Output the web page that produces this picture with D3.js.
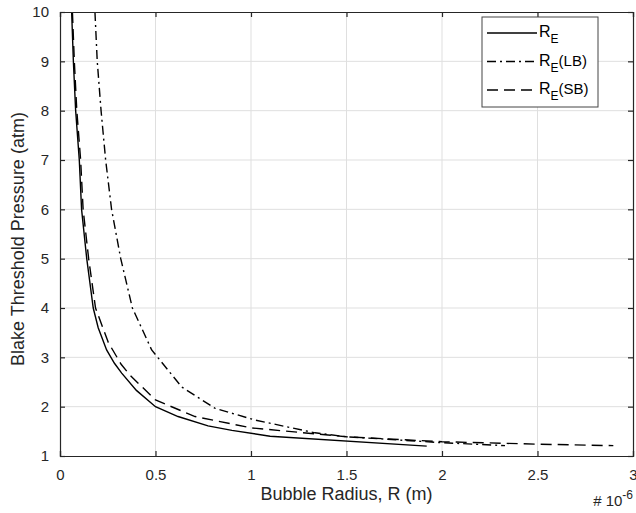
<!DOCTYPE html>
<html>
<head>
<meta charset="utf-8">
<script src="https://cdn.jsdelivr.net/npm/d3@7"></script>
<style>
  body { margin: 0; background: #fff; }
  svg { font-family: "Liberation Sans", Arial, sans-serif; }
  .tick text { fill: #262626; }
</style>
</head>
<body>
<svg id="chart" width="636" height="513"></svg>
<script>
// bubble radius (x 1e-6 m) and Blake threshold pressure (atm)
const reX = [0.061, 0.070, 0.082, 0.101, 0.113, 0.140, 0.174, 0.200, 0.244, 0.285, 0.323, 0.400, 0.500, 0.618, 0.775, 0.900, 1.100, 1.920];
const reY = [10, 9, 8, 7, 6, 5, 4, 3.6, 3.15, 2.88, 2.68, 2.33, 2.00, 1.80, 1.61, 1.52, 1.40, 1.20];

const lbX = [0.183, 0.195, 0.215, 0.239, 0.270, 0.318, 0.379, 0.480, 0.637, 0.810, 1.020, 1.335, 1.500, 2.000, 2.330];
const lbY = [10, 9, 8, 7, 6, 5, 4, 3.15, 2.40, 1.97, 1.73, 1.47, 1.39, 1.27, 1.21];

const sbX = [0.065, 0.075, 0.088, 0.108, 0.121, 0.150, 0.186, 0.253, 0.320, 0.366, 0.500, 0.707, 1.000, 1.500, 2.000, 2.500, 2.897];
const sbY = [10, 9, 8, 7, 6, 5, 4, 3.3, 2.86, 2.64, 2.135, 1.80, 1.57, 1.39, 1.29, 1.24, 1.21];

const xTicks = [0, 0.5, 1, 1.5, 2, 2.5, 3];
const yTicks = [1, 2, 3, 4, 5, 6, 7, 8, 9, 10];

const svg = d3.select("#chart");
const margin = {top: 12, right: 3, bottom: 57, left: 60};
const width = 636 - margin.left - margin.right;
const height = 513 - margin.top - margin.bottom;

const x = d3.scaleLinear().domain([0, 3]).range([0, width]);
const y = d3.scaleLinear().domain([1, 10]).range([height, 0]);

const g = svg.append("g").attr("transform", `translate(${margin.left},${margin.top})`);

// grid
g.append("g").selectAll("line").data(xTicks.slice(1, -1)).join("line")
  .attr("x1", d => x(d)).attr("x2", d => x(d))
  .attr("y1", 0).attr("y2", height)
  .attr("stroke", "#dfdfdf").attr("stroke-width", 1);
g.append("g").selectAll("line").data(yTicks.slice(1, -1)).join("line")
  .attr("x1", 0).attr("x2", width)
  .attr("y1", d => y(d)).attr("y2", d => y(d))
  .attr("stroke", "#dfdfdf").attr("stroke-width", 1);

// curves
const line = d3.line().x(d => x(d[0])).y(d => y(d[1]));
const zip = (a, b) => a.map((v, i) => [v, b[i]]);

g.append("defs").append("clipPath").attr("id", "clip")
  .append("rect").attr("width", width).attr("height", height);

const curves = g.append("g").attr("clip-path", "url(#clip)");
const styles = [
  {data: zip(reX, reY), dash: null},
  {data: zip(lbX, lbY), dash: "9,4,2,4"},
  {data: zip(sbX, sbY), dash: "11,6"}
];
styles.forEach(s => {
  curves.append("path")
    .attr("d", line(s.data))
    .attr("fill", "none")
    .attr("stroke", "#000")
    .attr("stroke-width", 1.4)
    .attr("stroke-dasharray", s.dash);
});

// axes (ticks inward, box on all sides)
const axisColor = "#262626";
const xAxis = g.append("g").attr("transform", `translate(0,${height})`)
  .call(d3.axisBottom(x).tickValues(xTicks).tickSize(-5).tickPadding(13).tickFormat(d3.format("")));
const xTop = g.append("g")
  .call(d3.axisTop(x).tickValues(xTicks).tickSize(-5).tickFormat(""));
const yAxis = g.append("g")
  .call(d3.axisLeft(y).tickValues(yTicks).tickSize(-5).tickPadding(11).tickFormat(d3.format("")));
const yRight = g.append("g").attr("transform", `translate(${width},0)`)
  .call(d3.axisRight(y).tickValues(yTicks).tickSize(-5).tickFormat(""));

[xAxis, xTop, yAxis, yRight].forEach(a => {
  a.selectAll(".domain").attr("stroke", axisColor).attr("stroke-width", 1.2);
  a.selectAll(".tick line").attr("stroke", axisColor).attr("stroke-width", 1.2);
  a.selectAll(".tick text").attr("font-size", 15).attr("font-family", "Liberation Sans, Arial, sans-serif");
});

// axis labels
svg.append("text")
  .attr("x", margin.left + width / 2).attr("y", 500)
  .attr("text-anchor", "middle").attr("font-size", 18).attr("fill", axisColor)
  .text("Bubble Radius, R (m)");

svg.append("text")
  .attr("transform", `translate(24,${margin.top + height / 2 + 5}) rotate(-90)`)
  .attr("text-anchor", "middle").attr("font-size", 18).attr("fill", axisColor)
  .text("Blake Threshold Pressure (atm)");

// exponent
const expo = svg.append("text")
  .attr("x", 633).attr("y", 506).attr("text-anchor", "end")
  .attr("font-size", 15).attr("fill", axisColor);
expo.append("tspan").text("# 10");
expo.append("tspan").attr("dy", -7).attr("font-size", 12).text("-6");

// legend
const legend = svg.append("g").attr("transform", "translate(482,17)");
legend.append("rect").attr("width", 116).attr("height", 90)
  .attr("fill", "#fff").attr("stroke", "#444").attr("stroke-width", 1);
const labels = [["R", "E", ""], ["R", "E", "(LB)"], ["R", "E", "(SB)"]];
labels.forEach((lab, i) => {
  const yy = 16 + i * 28.5;
  legend.append("line")
    .attr("x1", 5).attr("x2", 55).attr("y1", yy).attr("y2", yy)
    .attr("stroke", "#000").attr("stroke-width", 1.4)
    .attr("stroke-dasharray", styles[i].dash);
  const t = legend.append("text")
    .attr("x", 57).attr("y", yy + 4).attr("font-size", 16).attr("fill", "#000");
  t.append("tspan").text(lab[0]);
  t.append("tspan").attr("dy", 6).attr("font-size", 12).text(lab[1]);
  if (lab[2]) t.append("tspan").attr("dy", -6).attr("font-size", 15).text(lab[2]);
});
</script>
</body>
</html>
